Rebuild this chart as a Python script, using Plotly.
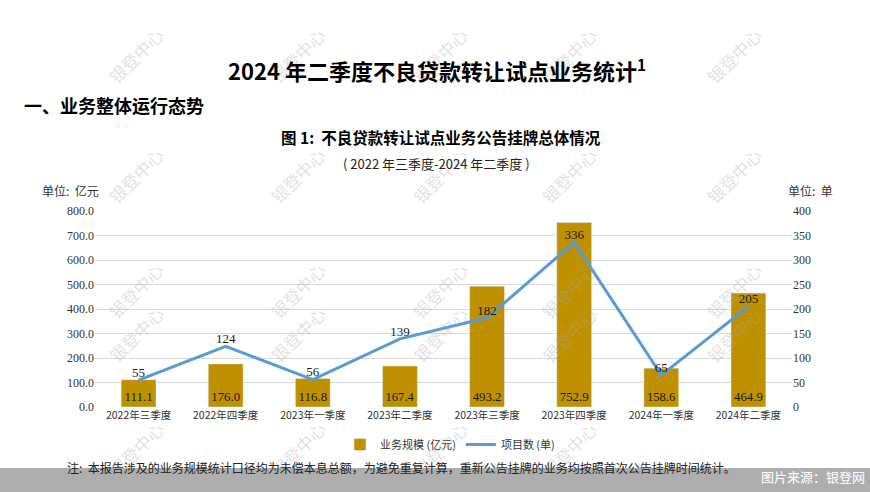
import plotly.graph_objects as go

categories = ["2022年三季度", "2022年四季度", "2023年一季度", "2023年二季度",
              "2023年三季度", "2023年四季度", "2024年一季度", "2024年二季度"]
scale_values = [111.1, 176.0, 116.8, 167.4, 493.2, 752.9, 158.6, 464.9]
project_counts = [55, 124, 56, 139, 182, 336, 65, 205]
left_ticks = [0, 100, 200, 300, 400, 500, 600, 700, 800]
right_ticks = [0, 50, 100, 150, 200, 250, 300, 350, 400]

SERIF = "Liberation Serif, Noto Sans CJK SC, serif"
CJK = "Noto Sans CJK SC, sans-serif"
W, H = 870, 492
L, R, T, B = 95, 78, 211, 85
PW, PH = W - L - R, H - T - B


def px(x):
    return (x - L) / PW


def py(y):
    return (H - B - y) / PH


fig = go.Figure()
fig.add_trace(go.Bar(
    x=categories, y=scale_values, name="业务规模 (亿元)",
    marker=dict(color="#BF9000"), width=0.4,
    text=[f"{v:.1f}" for v in scale_values], textposition="inside",
    insidetextanchor="start", textangle=0,
    textfont=dict(family=SERIF, size=13, color="#1a1a1a"),
    yaxis="y", cliponaxis=False,
))
fig.add_trace(go.Scatter(
    x=categories, y=project_counts, name="项目数 (单)", mode="lines+text",
    line=dict(color="#5B9BD5", width=3),
    text=[str(v) for v in project_counts], textposition="top center",
    textfont=dict(family=SERIF, size=13, color="#1a1a1a"),
    yaxis="y2", cliponaxis=False,
))

fig.update_layout(
    width=W, height=H,
    margin=dict(l=L, r=R, t=T, b=B),
    paper_bgcolor="white", plot_bgcolor="white",
    showlegend=True,
    legend=dict(orientation="h", x=px(450), xanchor="center", y=py(430), yanchor="top",
                font=dict(family=CJK, size=11, color="#333"),
                itemwidth=30, traceorder="normal"),
    xaxis=dict(tickfont=dict(family=CJK, size=10.5, color="#333"), showgrid=False,
               ticks="", showline=False),
    yaxis=dict(range=[0, 800], tickvals=left_ticks,
               ticktext=[f"{v:.1f}" for v in left_ticks],
               tickfont=dict(family=SERIF, size=12, color="#333"),
               gridcolor="#D9D9D9", gridwidth=1, zeroline=False, ticks=""),
    yaxis2=dict(range=[0, 400], tickvals=right_ticks, overlaying="y", side="right",
                tickfont=dict(family=SERIF, size=12, color="#333"),
                showgrid=False, zeroline=False, ticks=""),
    bargap=0.6,
)

ann = [
    dict(text="<b>2024 年二季度不良贷款转让试点业务统计<sup>1</sup></b>", x=437, y=70,
         font=dict(family=CJK, size=22, color="#000")),
    dict(text="<b>一、业务整体运行态势</b>", x=22, y=105, xanchor="left",
         font=dict(family=CJK, size=18, color="#000")),
    dict(text="<b>图 1:  不良贷款转让试点业务公告挂牌总体情况</b>", x=441, y=137,
         font=dict(family=CJK, size=15.5, color="#000")),
    dict(text="( 2022 年三季度-2024 年二季度 )", x=436, y=164,
         font=dict(family=CJK, size=13, color="#222")),
    dict(text="单位:  亿元", x=40, y=190, xanchor="left",
         font=dict(family=CJK, size=12, color="#333")),
    dict(text="单位:  单", x=835, y=190, xanchor="right",
         font=dict(family=CJK, size=12, color="#333")),
    dict(text="注:  本报告涉及的业务规模统计口径均为未偿本息总额，为避免重复计算，重新公告挂牌的业务均按照首次公告挂牌时间统计。",
         x=65, y=467, xanchor="left", font=dict(family=CJK, size=12, color="#222")),
]
annotations = []

# watermarks (drawn first, beneath everything else)
wm_cols = [100, 262, 440, 605, 770]
wm_rows = [20, 140, 255, 370, 485]
for r in wm_rows:
    for c in wm_cols:
        if r == 485 and c == 770:
            continue
        annotations.append(dict(
            text="银登中心", showarrow=False, xref="paper", yref="paper",
            x=px(c), y=py(r),
            textangle=-45, font=dict(family=CJK, size=17, color="rgba(170,170,170,0.35)"),
        ))

for a in ann:
    annotations.append(dict(
        text=a["text"], showarrow=False, xref="paper", yref="paper",
        x=px(a["x"]), y=py(a["y"]),
        xanchor=a.get("xanchor", "center"), yanchor="middle", font=a["font"],
    ))

fig.update_layout(annotations=annotations)

# grey band at the bottom, with the source label on it
fig.add_shape(type="rect", xref="paper", yref="paper", layer="above",
              x0=px(0), x1=px(W), y0=py(H), y1=py(468),
              fillcolor="rgba(140,140,140,0.7)", line=dict(width=0))
fig.add_shape(type="rect", xref="paper", yref="paper", layer="above",
              x0=px(870), x1=px(870), y0=py(478), y1=py(478),
              line=dict(width=0),
              label=dict(text="图片来源：银登网", textposition="middle right",
                         xanchor="right", padding=2,
                         font=dict(family=CJK, size=13, color="white")))

fig.write_html("out.html", config={"displayModeBar": False},
               post_script="document.body.style.margin='0';")
